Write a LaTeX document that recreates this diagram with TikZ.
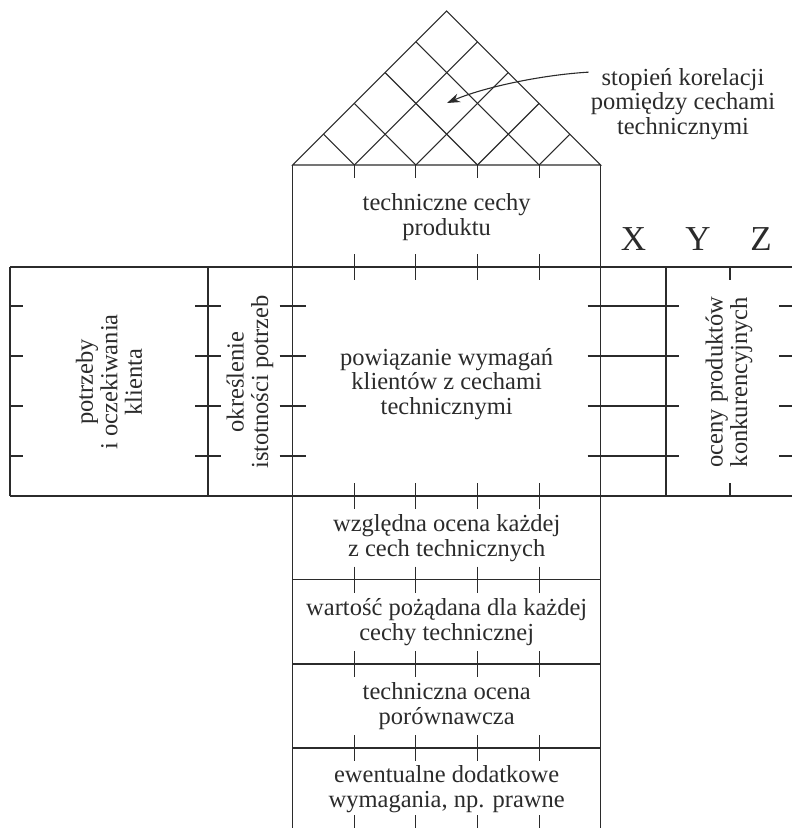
\documentclass[tikz,border=0pt]{standalone}
\usepackage{fontspec}
\setmainfont{Liberation Serif}
\usetikzlibrary{arrows.meta}
\definecolor{hqink}{HTML}{2B2B2B}

\begin{document}
\begin{tikzpicture}[x=1pt, y=-1pt,
  grid/.style={draw=hqink, line width=1.1pt},
  lbl/.style={font=\fontsize{24.5}{24.5}\selectfont, text=hqink, align=center, inner sep=2pt},
  big/.style={font=\fontsize{35}{36}\selectfont, text=hqink, inner sep=0pt}
]
  \useasboundingbox (0,0) rectangle (792,828);

  % Roof
  \draw[grid] (292.7,165) -- (446.7,11) -- (600.7,165) -- cycle;
  \foreach \k in {1,...,4} {
    \draw[grid] ({292.7+61.6*\k},165) -- ++({30.8*(5-\k)},{-30.8*(5-\k)});
    \draw[grid] ({292.7+61.6*\k},165) -- ++({-30.8*\k},{-30.8*\k});
  }

  % Frames
  \draw[grid] (292.7,165) -- (292.7,828);
  \draw[grid] (600.7,165) -- (600.7,828);
  \draw[grid] (10,267) -- (792,267);
  \draw[grid] (10,496) -- (792,496);
  \draw[grid] (10,267) -- (10,496);
  \draw[grid] (208,267) -- (208,496);
  \draw[grid] (666,267) -- (666,496);
  \foreach \y in {579.5,664,748} \draw[grid] (292.7,\y) -- (600.7,\y);

  % Ticks on columns
  \foreach \x in {354.3,415.9,477.5,539.1} {
    \draw[grid] (\x,165) -- (\x,178);
    \foreach \y in {267,496,579.5,664,748} \draw[grid] (\x,\y-13) -- (\x,\y+13);
    \draw[grid] (\x,815) -- (\x,828);
  }

  % Ticks on rows
  \foreach \y in {306,356,406,456} {
    \draw[grid] (10,\y) -- (23,\y);
    \draw[grid] (195,\y) -- (221,\y);
    \draw[grid] (279.7,\y) -- (305.7,\y);
    \draw[grid] (587.7,\y) -- (679,\y);
    \draw[grid] (779,\y) -- (792,\y);
  }
  \draw[grid] (730,267) -- (730,280);
  \draw[grid] (730,483) -- (730,496);

  % Labels
  \node[lbl] (feat) at (446.7,217) {techniczne cechy\\produktu};
  \node[lbl] (rel) at (446.7,384) {powiązanie wymagań\\klientów z cechami\\technicznymi};
  \node[lbl, rotate=90] (need) at (109,382) {potrzeby\\i oczekiwania\\klienta};
  \node[lbl, rotate=90] (weight) at (250,382) {określenie\\istotności potrzeb};
  \node[lbl, rotate=90] (comp) at (729,382) {oceny produktów\\konkurencyjnych};
  \node[lbl] (imp) at (446.7,538) {względna ocena każdej\\z cech technicznych};
  \node[lbl] (target) at (446.7,622) {wartość pożądana dla każdej\\cechy technicznej};
  \node[lbl] (bench) at (446.7,706) {techniczna ocena\\porównawcza};
  \node[lbl] (extra) at (446.7,789) {ewentualne dodatkowe\\wymagania, np. prawne};
  \node[lbl] (corr) at (683,104) {stopień korelacji\\pomiędzy cechami\\technicznymi};
  \node[big] (cx) at (633.5,239) {X};
  \node[big] (cy) at (698,239) {Y};
  \node[big] (cz) at (761,239) {Z};

  % Arrow into the roof
  \coordinate (cell) at (447,103);
  \draw[grid, -{Stealth[length=13pt, width=9pt]}] ([yshift=-6pt]corr.north west)
    .. controls +(-50,3) and +(35,-15) .. (cell);
\end{tikzpicture}
\end{document}
